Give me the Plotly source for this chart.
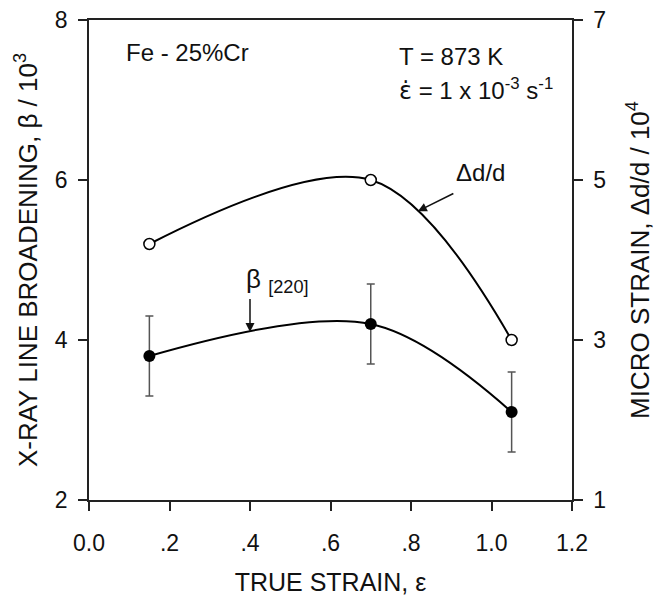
import plotly.graph_objects as go

# Data
strain = [0.15, 0.70, 1.05]
beta = [3.8, 4.2, 3.1]            # X-ray line broadening, beta / 10^3 (left axis)
beta_err = [0.5, 0.5, 0.5]
micro = [4.2, 5.0, 3.0]           # micro strain, dd/d / 10^4 (right axis)

x_ticks = [0.0, 0.2, 0.4, 0.6, 0.8, 1.0, 1.2]
x_ticktext = ["0.0", ".2", ".4", ".6", ".8", "1.0", "1.2"]
y_ticks = [2, 4, 6, 8]
y2_ticks = [1, 3, 5, 7]

FONT = "Liberation Sans, Arial, sans-serif"
AX = "#222222"

fig = go.Figure()

fig.add_trace(go.Scatter(
    x=strain, y=micro, yaxis="y2", mode="lines+markers",
    line=dict(color="black", width=2, shape="spline"),
    marker=dict(symbol="circle", size=11, color="white", line=dict(color="black", width=1.5)),
    showlegend=False,
))
fig.add_trace(go.Scatter(
    x=strain, y=beta, mode="lines+markers",
    line=dict(color="black", width=2, shape="spline"),
    marker=dict(symbol="circle", size=12, color="black"),
    error_y=dict(type="data", array=beta_err, visible=True, color="#555555", thickness=1.5, width=4),
    showlegend=False,
))

axis_common = dict(
    showline=True, linecolor=AX, linewidth=1.5, ticks="outside", ticklen=9,
    tickwidth=1.5, tickcolor=AX, showgrid=False, zeroline=False, automargin=False,
    tickfont=dict(family=FONT, size=23, color="#111"),
)

fig.update_layout(
    width=664, height=597,
    margin=dict(l=89, r=92, t=20, b=97),
    paper_bgcolor="white", plot_bgcolor="white",
    xaxis=dict(range=[0, 1.2], tickvals=x_ticks, ticktext=x_ticktext, mirror=True,
               ticklabelstandoff=13,
               title=dict(text="TRUE STRAIN, ε", font=dict(family=FONT, size=25, color="#111"), standoff=18),
               **axis_common),
    yaxis=dict(range=[2, 8], tickvals=y_ticks, ticklabelstandoff=6,
               title=dict(text="X-RAY LINE BROADENING, β / 10<sup>3</sup>", font=dict(family=FONT, size=26, color="#111"), standoff=10),
               **axis_common),
    yaxis2=dict(range=[1, 7], tickvals=y2_ticks, overlaying="y", side="right", ticklabelstandoff=6,
                title=dict(text="MICRO STRAIN, Δd/d / 10<sup>4</sup>", font=dict(family=FONT, size=26, color="#111"), standoff=26),
                **axis_common),
)

tf = dict(family=FONT, size=24, color="#111")
fig.add_annotation(x=0.087, y=7.6, xref="x", yref="y", text="Fe - 25%Cr", showarrow=False,
                   xanchor="left", yanchor="middle", font=tf)
fig.add_annotation(x=0.765, y=7.54, xref="x", yref="y", text="T = 873 K", showarrow=False,
                   xanchor="left", yanchor="middle", font=tf)
fig.add_annotation(x=0.765, y=7.13, xref="x", yref="y",
                   text='<span style="font-family:DejaVu Sans">ε̇</span> = 1 x 10<sup>-3</sup> s<sup>-1</sup>',
                   showarrow=False, xanchor="left", yanchor="middle", font=tf)
fig.add_annotation(x=0.907, y=6.09, xref="x", yref="y", text="Δd/d", showarrow=False,
                   xanchor="left", yanchor="middle", font=tf)
fig.add_annotation(x=0.817, y=5.61, xref="x", yref="y", ax=0.909, ay=5.84, axref="x", ayref="y",
                   text="", showarrow=True, arrowhead=2, arrowsize=1.2, arrowwidth=1.5, arrowcolor="#111")
fig.add_annotation(x=0.385, y=4.75, xref="x", yref="y", text="β <sub>[220]</sub>", showarrow=False,
                   xanchor="left", yanchor="middle", font=dict(family=FONT, size=26, color="#111"))
fig.add_annotation(x=0.40, y=4.1, xref="x", yref="y", ax=0.40, ay=4.53, axref="x", ayref="y",
                   text="", showarrow=True, arrowhead=2, arrowsize=1.2, arrowwidth=1.5, arrowcolor="#111")

fig.write_html("out.html")
